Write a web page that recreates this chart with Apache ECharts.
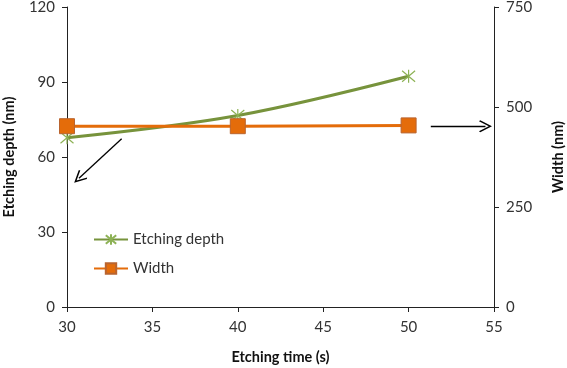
<!DOCTYPE html>
<html><head><meta charset="utf-8">
<script src="https://cdn.jsdelivr.net/npm/echarts@6/dist/echarts.min.js"></script>
<style>html,body{margin:0;padding:0;background:#fff}#c{width:567px;height:368px}</style>
</head><body><div id="c"></div>
<script>
const times = [30, 40, 50];
const depth = [67.7, 76.6, 92.3];
const width = [452, 452, 454];
const xTicks = [30, 35, 40, 45, 50, 55];
const arrow1 = [[33.2, 67.3], [30.7, 51.5]];
const arrow2 = [[51.3, 452], [54.5, 452]];

const font = 'Lato, "Open Sans", sans-serif';
const chart = echarts.init(document.getElementById('c'));
const star = 'path://M0,0L10,10M10,0L0,10M5,-1L5,11';
const head = 'path://M0,0L6,9L5,10L0,2.5L-5,10L-6,9Z';
const axisCommon = {
  axisLine: {show: true, lineStyle: {color: '#222', width: 1}},
  axisTick: {show: true, inside: false, length: 5, lineStyle: {color: '#222'}},
  splitLine: {show: false},
  axisLabel: {color: '#333', fontSize: 15, fontFamily: font, margin: 12},
  nameTextStyle: {color: '#111', fontSize: 14.5, fontWeight: 'bold', fontFamily: font}
};
chart.setOption({
  animation: false,
  grid: {left: 67, right: 73, top: 7, bottom: 61, containLabel: false, outerBoundsMode: 'none'},
  legend: {
    orient: 'vertical', left: 88, top: 227, itemGap: 14, itemWidth: 34, itemHeight: 13,
    textStyle: {fontSize: 15, color: '#333', fontFamily: font},
    data: ['Etching depth', 'Width']
  },
  xAxis: Object.assign({}, axisCommon, {
    type: 'value', min: xTicks[0], max: xTicks[xTicks.length - 1], interval: 5,
    name: 'Etching time (s)', nameLocation: 'middle', nameGap: 43,
    axisLabel: Object.assign({}, axisCommon.axisLabel, {margin: 13})
  }),
  yAxis: [
    Object.assign({}, axisCommon, {
      type: 'value', min: 0, max: 120, interval: 30, position: 'left',
      name: 'Etching depth (nm)', nameLocation: 'middle', nameGap: 50
    }),
    Object.assign({}, axisCommon, {
      type: 'value', min: 0, max: 750, interval: 250, position: 'right',
      name: 'Width (nm)', nameLocation: 'middle', nameGap: 57
    })
  ],
  series: [
    {
      name: 'Etching depth', type: 'line', smooth: 0.35, yAxisIndex: 0,
      data: times.map((t, i) => [t, depth[i]]),
      symbol: star, symbolSize: 13,
      lineStyle: {color: '#77933C', width: 3},
      itemStyle: {color: '#77933C', borderColor: '#8DB255', borderWidth: 1.2},
      markLine: {
        silent: true, symbol: ['none', head], symbolSize: [12, 13],
        lineStyle: {color: '#000', width: 1.3, type: 'solid'},
        label: {show: false},
        data: [[{coord: arrow1[0]}, {coord: arrow1[1]}]]
      }
    },
    {
      name: 'Width', type: 'line', yAxisIndex: 1,
      data: times.map((t, i) => [t, width[i]]),
      symbol: 'rect', symbolSize: 15,
      lineStyle: {color: '#E46C0A', width: 3},
      itemStyle: {color: '#E46C0A', borderColor: '#B9642F', borderWidth: 1},
      markLine: {
        silent: true, symbol: ['none', head], symbolSize: [12, 13],
        lineStyle: {color: '#000', width: 1.3, type: 'solid'},
        label: {show: false},
        data: [[{coord: arrow2[0]}, {coord: arrow2[1]}]]
      }
    }
  ]
});
</script></body></html>
